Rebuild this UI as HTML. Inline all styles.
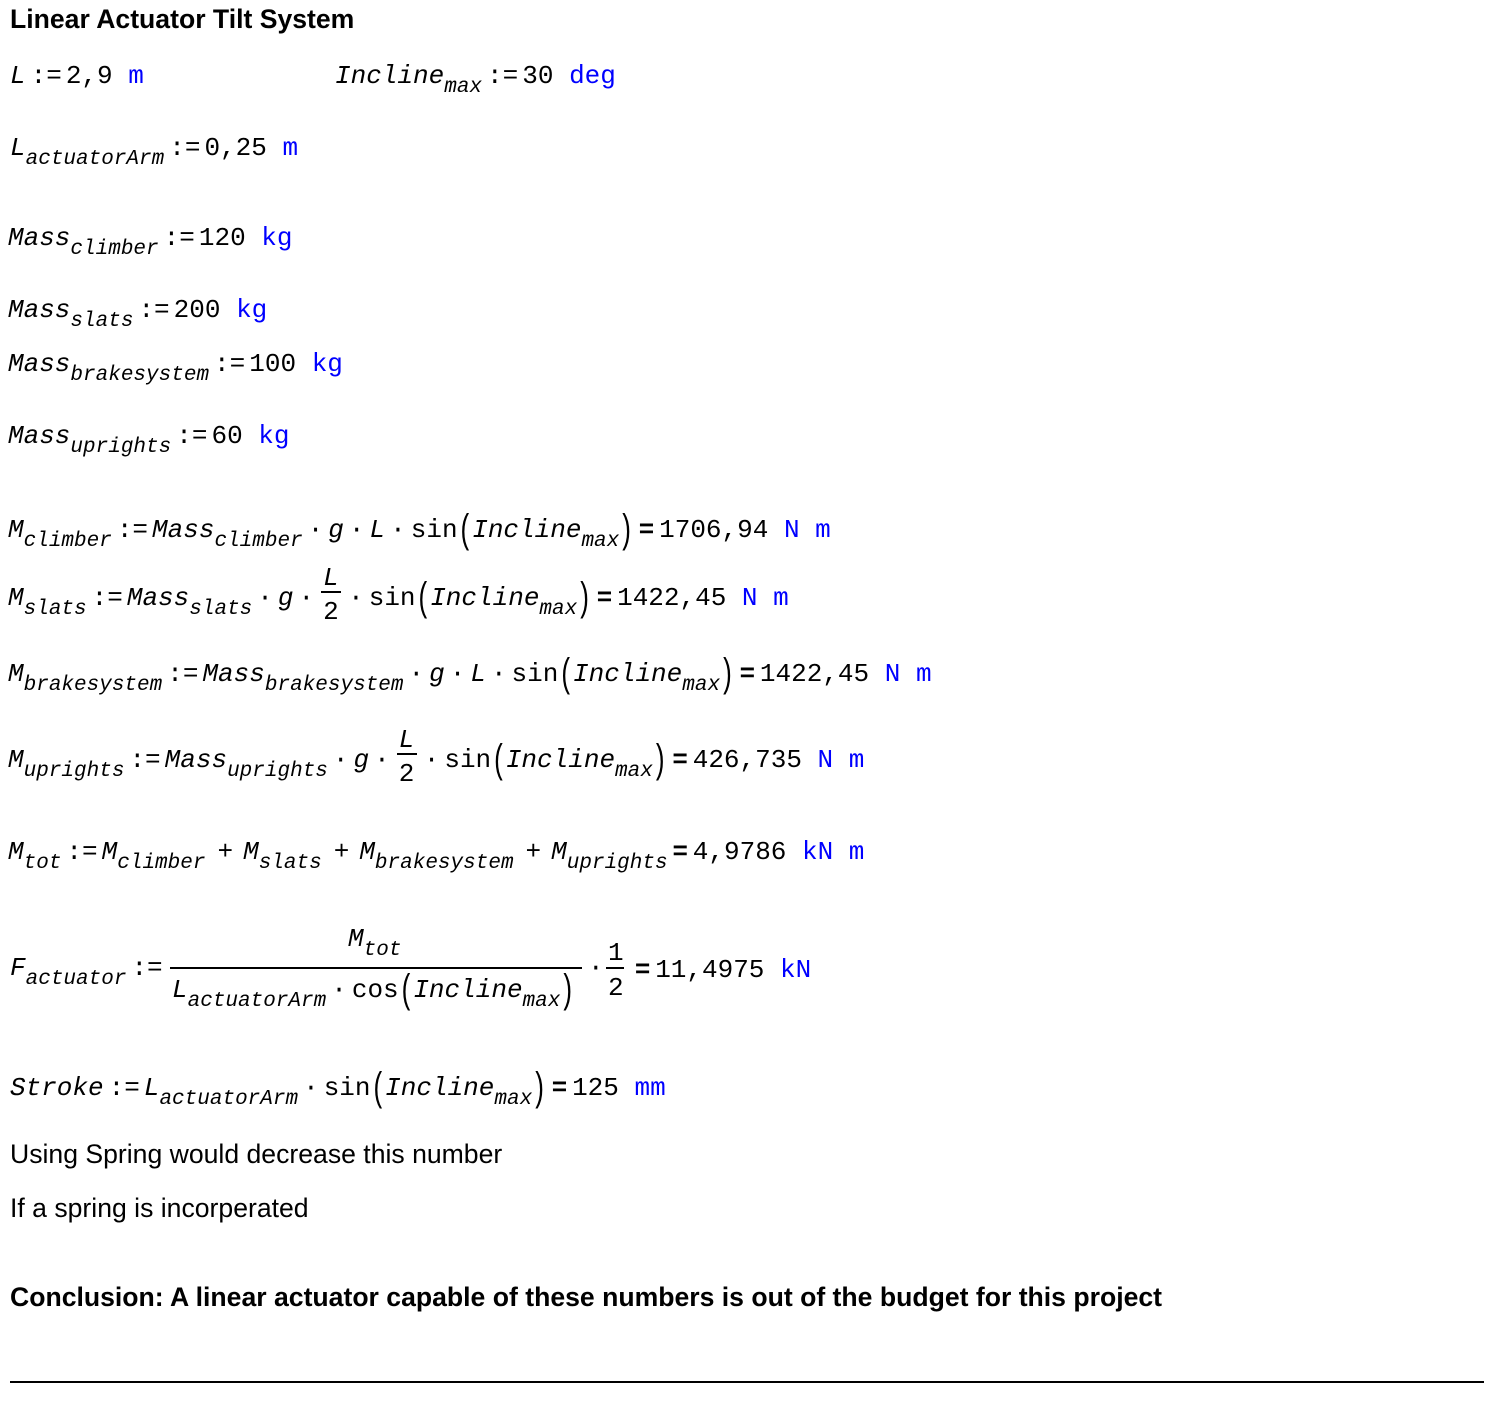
<!DOCTYPE html>
<html><head><meta charset="utf-8"><style>
body{margin:0;width:1500px;height:1404px;background:#fff;position:relative;overflow:hidden;color:#000}
.l{position:absolute;font-family:"Liberation Mono",monospace;font-size:26px;line-height:26px;white-space:nowrap}
.i{font-style:italic}
.s{font-style:italic;font-size:21px;position:relative;top:9px}
.u{color:#0000ff}
.op{margin:0 4px 0 5px}
.pl{margin:0 10px 0 12px}
.eq{font-family:"Liberation Sans",sans-serif;font-weight:bold;margin:0 5px}
.p{display:inline-block;font-family:"Liberation Sans",sans-serif;font-weight:300;transform:scaleY(1.55);margin:0 3px}
.d{margin:0 5px}
.fr{position:relative;display:inline-block;width:20px;margin:0 2px}
.fr .n{position:absolute;left:2px;top:-20px}
.fr .b{position:absolute;left:0;top:6px;width:20px;height:2px;background:#000}
.fr .dn{position:absolute;left:2px;top:14px;font-style:normal}
.sans{position:absolute;font-family:"Liberation Sans",sans-serif;font-size:26.6px;white-space:nowrap}
</style></head><body>
<div class="sans" style="left:10px;top:4px;font-weight:bold">Linear Actuator Tilt System</div>

<div class="l" style="left:10px;top:63px"><span class="i">L</span><span class="op">:=</span>2,9 <span class="u">m</span></div>
<div class="l" style="left:335px;top:63px"><span class="i">Incline</span><span class="s">max</span><span class="op">:=</span>30 <span class="u">deg</span></div>
<div class="l" style="left:10px;top:135px"><span class="i">L</span><span class="s">actuatorArm</span><span class="op">:=</span>0,25 <span class="u">m</span></div>
<div class="l" style="left:8px;top:225px"><span class="i">Mass</span><span class="s">climber</span><span class="op">:=</span>120 <span class="u">kg</span></div>
<div class="l" style="left:8px;top:297px"><span class="i">Mass</span><span class="s">slats</span><span class="op">:=</span>200 <span class="u">kg</span></div>
<div class="l" style="left:8px;top:351px"><span class="i">Mass</span><span class="s">brakesystem</span><span class="op">:=</span>100 <span class="u">kg</span></div>
<div class="l" style="left:8px;top:423px"><span class="i">Mass</span><span class="s">uprights</span><span class="op">:=</span>60 <span class="u">kg</span></div>

<div class="l" style="left:8px;top:515px"><span class="i">M</span><span class="s">climber</span><span class="op">:=</span><span class="i">Mass</span><span class="s">climber</span><span class="d">·</span><span class="i">g</span><span class="d">·</span><span class="i">L</span><span class="d">·</span>sin<span class="p">(</span><span class="i">Incline</span><span class="s">max</span><span class="p">)</span><span class="eq">=</span>1706,94 <span class="u">N m</span></div>

<div class="l" style="left:8px;top:583px"><span class="i">M</span><span class="s">slats</span><span class="op">:=</span><span class="i">Mass</span><span class="s">slats</span><span class="d">·</span><span class="i">g</span><span class="d">·</span><span class="fr">&nbsp;<span class="n i">L</span><span class="b"></span><span class="dn">2</span></span><span class="d">·</span>sin<span class="p">(</span><span class="i">Incline</span><span class="s">max</span><span class="p">)</span><span class="eq">=</span>1422,45 <span class="u">N m</span></div>

<div class="l" style="left:8px;top:659px"><span class="i">M</span><span class="s">brakesystem</span><span class="op">:=</span><span class="i">Mass</span><span class="s">brakesystem</span><span class="d">·</span><span class="i">g</span><span class="d">·</span><span class="i">L</span><span class="d">·</span>sin<span class="p">(</span><span class="i">Incline</span><span class="s">max</span><span class="p">)</span><span class="eq">=</span>1422,45 <span class="u">N m</span></div>

<div class="l" style="left:8px;top:745px"><span class="i">M</span><span class="s">uprights</span><span class="op">:=</span><span class="i">Mass</span><span class="s">uprights</span><span class="d">·</span><span class="i">g</span><span class="d">·</span><span class="fr">&nbsp;<span class="n i">L</span><span class="b"></span><span class="dn">2</span></span><span class="d">·</span>sin<span class="p">(</span><span class="i">Incline</span><span class="s">max</span><span class="p">)</span><span class="eq">=</span>426,735 <span class="u">N m</span></div>

<div class="l" style="left:8px;top:837px"><span class="i">M</span><span class="s">tot</span><span class="op">:=</span><span class="i">M</span><span class="s">climber</span><span class="pl">+</span><span class="i">M</span><span class="s">slats</span><span class="pl">+</span><span class="i">M</span><span class="s">brakesystem</span><span class="pl">+</span><span class="i">M</span><span class="s">uprights</span><span class="eq">=</span>4,9786 <span class="u">kN m</span></div>

<div class="l" style="left:10px;top:955px"><span class="i">F</span><span class="s">actuator</span><span class="op">:=</span></div>
<div class="l" style="left:348px;top:926px"><span class="i">M</span><span class="s">tot</span></div>
<div style="position:absolute;left:170px;top:967px;width:412px;height:2px;background:#000"></div>
<div class="l" style="left:172px;top:975px"><span class="i">L</span><span class="s">actuatorArm</span><span class="d">·</span>cos<span class="p">(</span><span class="i">Incline</span><span class="s">max</span><span class="p">)</span></div>
<div class="l" style="left:588px;top:955px">·</div>
<div class="l" style="left:608px;top:940px">1</div>
<div style="position:absolute;left:606px;top:967px;width:18px;height:2px;background:#000"></div>
<div class="l" style="left:608px;top:975px">2</div>
<div class="l" style="left:630px;top:955px"><span class="eq">=</span>11,4975 <span class="u">kN</span></div>

<div class="l" style="left:10px;top:1073px"><span class="i">Stroke</span><span class="op">:=</span><span class="i">L</span><span class="s">actuatorArm</span><span class="d">·</span>sin<span class="p">(</span><span class="i">Incline</span><span class="s">max</span><span class="p">)</span><span class="eq">=</span>125 <span class="u">mm</span></div>

<div class="sans" style="left:10px;top:1139px">Using Spring would decrease this number</div>
<div class="sans" style="left:10px;top:1193px">If a spring is incorperated</div>
<div class="sans" style="left:10px;top:1282px;font-weight:bold">Conclusion: A linear actuator capable of these numbers is out of the budget for this project</div>
<div style="position:absolute;left:10px;top:1381px;width:1474px;height:2px;background:#000"></div>
</body></html>
